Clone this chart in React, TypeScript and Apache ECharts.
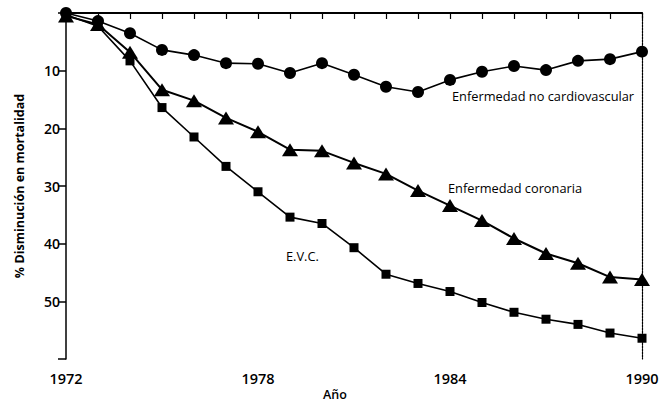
import React, { useEffect, useRef } from "react";
import * as echarts from "echarts";

const years = [1972, 1973, 1974, 1975, 1976, 1977, 1978, 1979, 1980, 1981, 1982, 1983, 1984, 1985, 1986, 1987, 1988, 1989, 1990];
const noCardio = [0, 1.4, 3.5, 6.4, 7.3, 8.7, 8.8, 10.4, 8.7, 10.7, 12.8, 13.7, 11.6, 10.2, 9.2, 9.9, 8.3, 8.0, 6.7];
const coronaria = [0.5, 2.0, 6.8, 13.3, 15.2, 18.2, 20.6, 23.7, 23.9, 26.0, 27.9, 30.8, 33.4, 36.0, 39.1, 41.7, 43.4, 45.8, 46.2];
const evc = [0.3, 2.3, 8.3, 16.4, 21.5, 26.6, 31.0, 35.4, 36.5, 40.7, 45.3, 46.9, 48.3, 50.2, 51.9, 53.1, 54.0, 55.5, 56.4];
const xLabelYears = [1972, 1978, 1984, 1990];
const yLabelValues = [10, 20, 30, 40, 50];
const seriesNames = ["Enfermedad no cardiovascular", "Enfermedad coronaria", "E.V.C."];

export default function App() {
  const ref = useRef<HTMLDivElement>(null);
  useEffect(() => {
    if (!ref.current) return;
    const chart = echarts.init(ref.current, null, { renderer: "svg" });
    const font = "Open Sans";
    const pair = (arr: number[]) => years.map((y, i) => [y, arr[i]]);
    const lineStyle = { color: "#000", width: 1.6 };
    chart.setOption({
      animation: false,
      backgroundColor: "#fff",
      grid: { left: 66, right: 20, top: 13, bottom: 47, containLabel: false },
      xAxis: [
        {
          type: "value",
          min: 1972,
          max: 1990,
          interval: 1,
          axisLine: { show: true, lineStyle: { color: "#000", width: 1.5 } },
          axisTick: { show: true, length: 6, lineStyle: { color: "#000", width: 1.2 } },
          axisLabel: {
            margin: 12,
            color: "#000",
            fontFamily: font,
            fontSize: 14.5,
            fontWeight: 600,
            formatter: (v: number) => (xLabelYears.includes(v) ? String(v) : ""),
          },
          splitLine: { show: false },
        },
        {
          type: "value",
          position: "top",
          min: 1972,
          max: 1990,
          axisLine: { show: true, lineStyle: { color: "#000", width: 1.8 } },
          axisTick: { show: false },
          axisLabel: { show: false },
          splitLine: { show: false },
        },
      ],
      yAxis: [
        {
          type: "value",
          inverse: true,
          min: 0,
          max: 60,
          interval: 10,
          name: "% Disminución en mortalidad",
          nameLocation: "middle",
          nameGap: 40,
          nameTextStyle: { color: "#000", fontFamily: font, fontSize: 12.5, fontWeight: 700 },
          axisLine: { show: true, lineStyle: { color: "#000", width: 1.5 } },
          axisTick: { show: true, length: 8, lineStyle: { color: "#000", width: 1.5 } },
          axisLabel: {
            margin: 6,
            color: "#000",
            fontFamily: font,
            fontSize: 14,
            fontWeight: 600,
            formatter: (v: number) => (yLabelValues.includes(v) ? String(v) : ""),
          },
          splitLine: { show: false },
        },
        {
          type: "value",
          inverse: true,
          position: "right",
          min: 0,
          max: 60,
          axisLine: { show: true, lineStyle: { color: "#000", width: 1.2, type: [2, 1] } },
          axisTick: { show: false },
          axisLabel: { show: false },
          splitLine: { show: false },
        },
      ],
      series: [
        {
          name: seriesNames[0],
          type: "line",
          data: pair(noCardio),
          symbol: "circle",
          symbolSize: 12,
          itemStyle: { color: "#000" },
          lineStyle,
          z: 3,
        },
        {
          name: seriesNames[1],
          type: "line",
          data: pair(coronaria),
          symbol: "triangle",
          symbolSize: [16, 13],
          itemStyle: { color: "#000" },
          lineStyle: { color: "#000", width: 2 },
          z: 4,
        },
        {
          name: seriesNames[2],
          type: "line",
          data: pair(evc),
          symbol: "rect",
          symbolSize: 9,
          itemStyle: { color: "#000" },
          lineStyle,
          z: 5,
        },
      ],
      graphic: [
        {
          type: "text",
          left: 452,
          top: 89,
          style: { text: seriesNames[0], fill: "#000", font: `12.8px "${font}"` },
        },
        {
          type: "text",
          left: 448,
          top: 181,
          style: { text: seriesNames[1], fill: "#000", font: `12.8px "${font}"` },
        },
        {
          type: "text",
          left: 286,
          top: 249,
          style: { text: seriesNames[2], fill: "#000", font: `12.8px "${font}"` },
        },
        {
          type: "text",
          left: 323,
          top: 388,
          style: { text: "Año", fill: "#000", font: `600 12.5px "${font}"` },
        },
      ],
    });
    return () => chart.dispose();
  }, []);
  return <div ref={ref} style={{ width: 662, height: 406, position: "absolute", left: 0, top: 0 }} />;
}
